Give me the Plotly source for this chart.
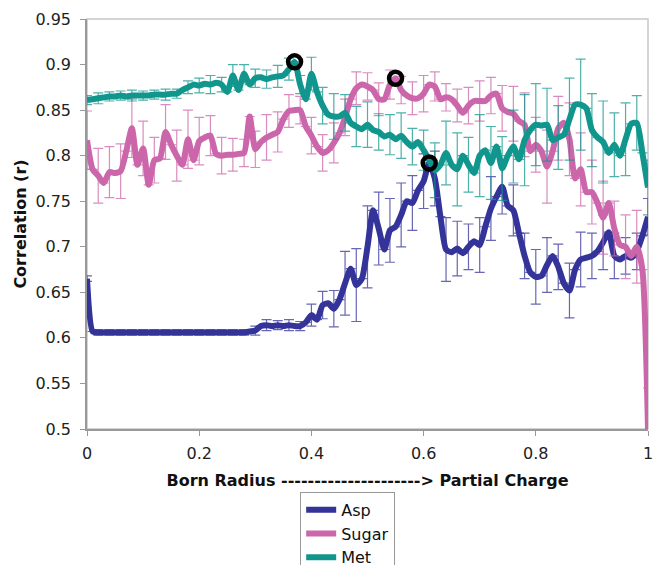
import plotly.graph_objects as go

# ---------------- data ----------------
X = [round(i * 0.01, 2) for i in range(101)]

ASP = [0.665, 0.607, 0.606, 0.606, 0.606, 0.606, 0.606, 0.606, 0.606, 0.606,
       0.606, 0.606, 0.606, 0.606, 0.606, 0.606, 0.606, 0.606, 0.606, 0.606,
       0.606, 0.606, 0.606, 0.606, 0.606, 0.606, 0.606, 0.606, 0.606, 0.607,
       0.608, 0.613, 0.614, 0.613, 0.614, 0.613, 0.614, 0.613, 0.613, 0.617,
       0.625, 0.620, 0.636, 0.638, 0.632, 0.642, 0.660, 0.676, 0.658, 0.665,
       0.700, 0.740, 0.720, 0.697, 0.718, 0.722, 0.735, 0.750, 0.748, 0.762,
       0.772, 0.792, 0.775, 0.733, 0.697, 0.694, 0.698, 0.693, 0.700, 0.706,
       0.702, 0.722, 0.742, 0.755, 0.766, 0.745, 0.740, 0.715, 0.690, 0.672,
       0.667, 0.668, 0.680, 0.690, 0.678, 0.660, 0.652, 0.675, 0.686, 0.688,
       0.690, 0.695, 0.705, 0.716, 0.690, 0.686, 0.690, 0.688, 0.695, 0.712,
       0.733]

SUGAR = [0.817, 0.785, 0.778, 0.770, 0.782, 0.781, 0.783, 0.805, 0.830, 0.790,
         0.808, 0.768, 0.795, 0.797, 0.826, 0.812, 0.800, 0.790, 0.818, 0.795,
         0.816, 0.820, 0.822, 0.802, 0.800, 0.801, 0.801, 0.802, 0.803, 0.843,
         0.807, 0.815, 0.820, 0.823, 0.826, 0.840, 0.849, 0.850, 0.850, 0.832,
         0.822, 0.810, 0.803, 0.806, 0.814, 0.825, 0.842, 0.862, 0.874, 0.878,
         0.876, 0.872, 0.862, 0.862, 0.878, 0.885, 0.872, 0.866, 0.863, 0.863,
         0.868, 0.878, 0.876, 0.862, 0.864, 0.862, 0.855, 0.847, 0.855, 0.860,
         0.860, 0.860, 0.866, 0.868, 0.852, 0.848, 0.846, 0.838, 0.834, 0.805,
         0.812, 0.805, 0.788, 0.805, 0.830, 0.836, 0.818, 0.775, 0.785, 0.760,
         0.760, 0.748, 0.732, 0.748, 0.720, 0.702, 0.700, 0.690, 0.700, 0.675,
         0.500]

MET = [0.861, 0.862, 0.863, 0.864, 0.865, 0.865, 0.866, 0.865, 0.866, 0.866,
       0.866, 0.866, 0.867, 0.867, 0.867, 0.868, 0.868, 0.872, 0.875, 0.878,
       0.877, 0.879, 0.878, 0.880, 0.878, 0.870, 0.888, 0.872, 0.890, 0.878,
       0.885, 0.886, 0.884, 0.886, 0.887, 0.888, 0.895, 0.903, 0.878, 0.862,
       0.890, 0.870, 0.855, 0.845, 0.843, 0.843, 0.847, 0.836, 0.832, 0.829,
       0.834, 0.828, 0.826, 0.821, 0.823, 0.818, 0.822, 0.815, 0.810, 0.815,
       0.806, 0.795, 0.784, 0.790, 0.803, 0.790, 0.785, 0.800, 0.790, 0.781,
       0.800, 0.806, 0.792, 0.810, 0.786, 0.800, 0.810, 0.796, 0.817, 0.828,
       0.834, 0.833, 0.834, 0.817, 0.820, 0.823, 0.840, 0.856, 0.856, 0.852,
       0.828, 0.820, 0.815, 0.803, 0.812, 0.800, 0.818, 0.835, 0.836, 0.803,
       0.765]

# error bar half-widths, one per every second point (x = 0, 0.02, ..., 1.0)
ASP_ERR = [0.003] * 15 + [0.005, 0.006, 0.005, 0.006, 0.005, 0.012,
           0.015, 0.020, 0.035, 0.040, 0.045, 0.040, 0.035, 0.035, 0.030,
           0.030, 0.030, 0.035, 0.030, 0.025, 0.030, 0.035, 0.030, 0.028, 0.025,
           0.030, 0.030, 0.025, 0.030, 0.030, 0.025, 0.030, 0.025, 0.020, 0.020,
           0.020]
SUGAR_ERR = [0.032, 0.030, 0.028, 0.030, 0.032, 0.030, 0.025, 0.030, 0.028, 0.032,
             0.026, 0.022, 0.020, 0.018, 0.015, 0.020, 0.025, 0.022, 0.018, 0.015,
             0.020, 0.020, 0.022, 0.020, 0.018, 0.015, 0.018, 0.016, 0.015, 0.018,
             0.020, 0.016, 0.015, 0.018, 0.020, 0.022, 0.020, 0.025, 0.030, 0.035,
             0.030, 0.040, 0.035, 0.040, 0.040, 0.035, 0.040, 0.030, 0.035, 0.040,
             0.045]
MET_ERR = [0.005, 0.006, 0.005, 0.005, 0.006, 0.005, 0.005, 0.006, 0.005,
           0.007, 0.008, 0.010, 0.008, 0.012, 0.010, 0.010,
           0.010, 0.012, 0.012, 0.010, 0.018,
           0.020, 0.025, 0.020, 0.022, 0.025, 0.020, 0.022, 0.025, 0.020, 0.022,
           0.030, 0.035, 0.040, 0.030, 0.045, 0.040, 0.035, 0.040, 0.050, 0.045,
           0.040, 0.035, 0.045, 0.050, 0.040, 0.045, 0.035, 0.040, 0.030, 0.030]

# highlighted (circled) points: index into each series
HIGHLIGHT = {"Met": 37, "Sugar": 55, "Asp": 61}

SERIES = ["Asp", "Sugar", "Met"]
COLORS = {"Asp": "#333399", "Sugar": "#CC66AA", "Met": "#11968E"}
ERRCOLORS = {"Asp": "rgba(51,51,153,0.75)", "Sugar": "rgba(204,102,170,0.75)",
             "Met": "rgba(17,150,142,0.75)"}
X_TICKS = [0, 0.2, 0.4, 0.6, 0.8, 1]
X_TICK_TEXT = ["0", "0.2", "0.4", "0.6", "0.8", "1"]
Y_TICKS = [0.5, 0.55, 0.6, 0.65, 0.7, 0.75, 0.8, 0.85, 0.9, 0.95]
Y_TICK_TEXT = ["0.5", "0.55", "0.6", "0.65", "0.7", "0.75", "0.8", "0.85", "0.9", "0.95"]

VALUES = {"Asp": ASP, "Sugar": SUGAR, "Met": MET}
ERRS = {"Asp": ASP_ERR, "Sugar": SUGAR_ERR, "Met": MET_ERR}


def spread(err):
    out = []
    for i in range(len(X)):
        out.append(err[i // 2] if i % 2 == 0 else None)
    return out


FONT = "DejaVu Sans, Verdana, sans-serif"

fig = go.Figure()
for name in SERIES:
    fig.add_trace(go.Scatter(
        x=X, y=VALUES[name], name=name, mode="lines",
        line=dict(color=COLORS[name], width=6, shape="spline", smoothing=0.6),
        error_y=dict(type="data", array=spread(ERRS[name]), visible=True,
                     color=ERRCOLORS[name], thickness=1.2, width=5),
    ))

hx = [X[HIGHLIGHT[n]] for n in ["Met", "Sugar", "Asp"]]
hy = [VALUES[n][HIGHLIGHT[n]] for n in ["Met", "Sugar", "Asp"]]
fig.add_trace(go.Scatter(
    x=hx, y=hy, mode="markers", showlegend=False, hoverinfo="skip",
    marker=dict(symbol="circle-open", size=13, color="black",
                line=dict(width=4.5, color="black")),
))

fig.add_shape(type="rect", xref="paper", yref="paper", x0=0, y0=0, x1=1, y1=1,
              line=dict(color="#c8c8c8", width=1.5), layer="below")

fig.update_layout(
    width=654, height=565,
    margin=dict(l=87, r=6, t=19, b=136, autoexpand=False),
    paper_bgcolor="white", plot_bgcolor="white",
    font=dict(family=FONT, size=16, color="#222"),
    showlegend=True,
    legend=dict(x=0.38, y=-0.153, xanchor="left", yanchor="top",
                bordercolor="#999", borderwidth=1, bgcolor="white",
                font=dict(family=FONT, size=16, color="#111"),
                tracegroupgap=0, itemwidth=30),
    xaxis=dict(range=[0, 1], tickvals=X_TICKS, ticktext=X_TICK_TEXT,
               showgrid=False, zeroline=False, showline=True, automargin=False,
               linecolor="#999", linewidth=1.5, ticks="outside", ticklen=5,
               tickcolor="#999", ticklabelstandoff=4,
               title=dict(text="<b>Born Radius ---------------------> Partial Charge</b>",
                          font=dict(family=FONT, size=16, color="#111"), standoff=13)),
    yaxis=dict(range=[0.5, 0.95], tickvals=Y_TICKS, ticktext=Y_TICK_TEXT,
               showgrid=False, zeroline=False, showline=True, automargin=False,
               linecolor="#999", linewidth=1.5, ticks="outside", ticklen=5,
               tickcolor="#999", ticklabelstandoff=6,
               title=dict(text="<b>Correlation (r)</b>",
                          font=dict(family=FONT, size=16, color="#111"), standoff=5)),
)

fig.write_html("out.html", config={"displayModeBar": False},
               post_script="document.body.style.margin='0';")
